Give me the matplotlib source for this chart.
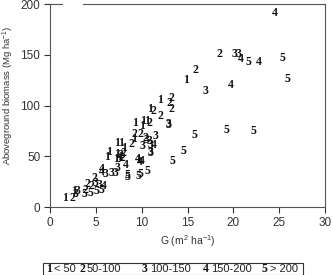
import matplotlib

matplotlib.use("Agg")
import matplotlib.pyplot as plt
from matplotlib.patches import Rectangle

# basal area G (m2/ha), aboveground biomass (Mg/ha), stand class label
g_class1 = [1.6, 2.6, 6.2, 6.4, 7.3, 7.3, 7.7, 8.1, 9.2, 9.3, 10.0, 10.2, 10.6,
            10.9, 12.0, 14.8, 9.6, 7.2, 7.6]
b_class1 = [8.9, 15.8, 49, 53.9, 52.5, 63.4, 63.4, 58.1, 66.7, 82.4, 79.8, 84.7,
            84.7, 96.8, 105.4, 125.4, 46, 47, 49]

g_class2 = [2.5, 3.9, 4.1, 4.5, 4.8, 8.9, 9.2, 9.9, 10.4, 10.8, 11.3, 12.1, 13.0,
            13.2, 13.3, 15.85, 18.5, 7.9, 7.7, 8.0]
b_class2 = [9.2, 17, 22.3, 21, 28.6, 62, 71.9, 71.9, 67.7, 83, 94.6, 90, 102.2,
            96.3, 107, 134.7, 151, 48, 51, 53]

g_class3 = [2.8, 3.05, 5.0, 5.4, 6.1, 6.7, 7.1, 7.4, 10.1, 10.5, 10.9, 11.0, 11.5,
            11.0, 11.0, 12.9, 12.9, 17.0, 20.1, 20.6, 7.5]
b_class3 = [12.8, 15.5, 23.3, 22, 32.2, 33.2, 33.2, 38.1, 60, 66, 65.6, 61, 70,
            54.7, 53, 82, 81, 114.6, 150.7, 151, 47.5]

g_class4 = [5.7, 5.7, 8.3, 9.6, 10.0, 9.8, 11.3, 19.7, 20.8, 22.8, 24.5, 5.9]
b_class4 = [37.4, 34.8, 41.4, 47, 45, 44, 60.7, 120.2, 145.5, 142.9, 190.8, 21]

g_class5 = [3.8, 4.4, 5.1, 5.6, 8.5, 8.5, 9.7, 9.9, 10.6, 13.4, 14.6, 15.8, 19.3,
            22.2, 21.6, 25.4, 25.9]
b_class5 = [12.8, 14.1, 15.5, 17, 31.5, 29.2, 30.8, 33, 35.8, 45, 55.2, 70.9, 76.2,
            74.9, 142.9, 146.5, 126]

class_labels = ["1", "2", "3", "4", "5"]
class_ranges = ["< 50", "50-100", "100-150", "150-200", "> 200"]

SANS = ["Liberation Sans", "DejaVu Sans"]
SERIF = "Liberation Serif"
plt.rcParams["mathtext.fontset"] = "custom"
plt.rcParams["mathtext.rm"] = "Liberation Sans"
plt.rcParams["mathtext.default"] = "rm"

fig = plt.figure(figsize=(3.32, 2.75), dpi=100)
ax = fig.add_axes([0.1506, 0.247, 0.8284, 0.738])

series = [(g_class1, b_class1), (g_class2, b_class2), (g_class3, b_class3),
          (g_class4, b_class4), (g_class5, b_class5)]
for lab, (gs, bs) in zip(class_labels, series):
    for g, b in zip(gs, bs):
        ax.text(g, b, lab, ha="center", va="center", fontsize=8.5,
                fontweight="bold", family=SERIF, color="#111111")

ax.set_xlim(0, 30)
ax.set_ylim(0, 200)
ax.set_xticks(range(0, 31, 5))
ax.set_yticks(range(0, 201, 50))
ax.tick_params(direction="out", length=4, width=0.8, labelsize=8.5,
               colors="#333333", pad=3)
for lbl in ax.get_xticklabels() + ax.get_yticklabels():
    lbl.set_family(SANS)

for side in ["left", "bottom", "right"]:
    ax.spines[side].set_color("#555555")
    ax.spines[side].set_linewidth(0.8)
ax.spines["top"].set_visible(False)
# top frame line has a gap near the left end in the original
for x0, x1 in [(0, 0.044), (0.12, 1.0)]:
    ax.plot([x0, x1], [1, 1], transform=ax.transAxes, color="#555555",
            lw=0.8, clip_on=False)

ax.set_xlabel("G (m$^2$ ha$^{-1}$)", fontsize=7.5, family=SANS, color="#333333",
              labelpad=3)
ax.set_ylabel("Aboveground biomass (Mg ha$^{-1}$)", fontsize=6.8, family=SANS,
              color="#333333")
ax.yaxis.set_label_coords(-0.125, 0.55)

# legend box under the chart
fig.patches.append(Rectangle((0.130, 0.0), 0.782, 0.042, transform=fig.transFigure,
                             fill=False, edgecolor="#333333", lw=0.8))
num_x = [46, 79, 142, 203, 262]
for px, lab, rng in zip(num_x, class_labels, class_ranges):
    fig.text(px / 332, 0.02, lab, ha="left", va="center", fontsize=8.5,
             fontweight="bold", family=SERIF, color="#111111")
    fig.text((px + 8) / 332, 0.02, rng, ha="left", va="center", fontsize=8,
             family=SANS, color="#222222")

fig.savefig("out.png", dpi=100)
